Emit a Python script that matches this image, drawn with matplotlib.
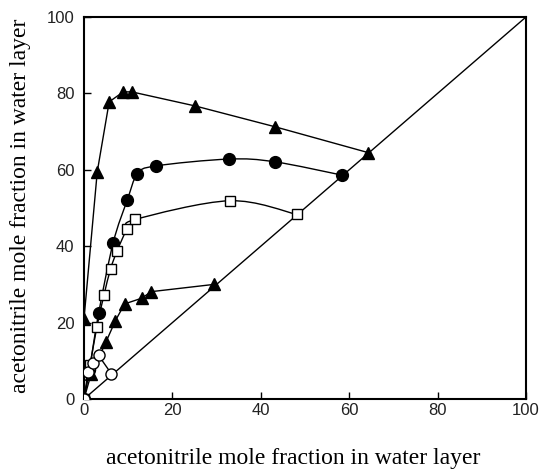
import numpy as np
import matplotlib
matplotlib.use("Agg")
import matplotlib.pyplot as plt
from matplotlib.path import Path
from matplotlib.patches import PathPatch

# Data (x: water layer, y: other layer), mole fraction %
tri_top_x = [0, 0, 3.0, 5.7, 8.9, 10.8, 25.2, 43.1, 64.3]
tri_top_y = [0, 21.0, 59.5, 77.8, 80.4, 80.4, 76.7, 71.3, 64.5]

circ_x = [0, 1.2, 3.3, 6.6, 9.8, 12.1, 16.2, 32.7, 43.1, 58.4]
circ_y = [0, 7.5, 22.4, 40.9, 52.1, 58.9, 61.0, 62.8, 62.1, 58.6]

sq_x = [0, 1.4, 2.9, 4.5, 6.0, 7.5, 9.7, 11.6, 33.0, 48.2]
sq_y = [0, 9.0, 18.8, 27.1, 34.0, 38.8, 44.4, 47.0, 51.9, 48.3]

tri_low_x = [0, 1.6, 5.0, 7.1, 9.2, 13.1, 15.2, 29.4]
tri_low_y = [0, 6.5, 15.0, 20.5, 24.9, 26.4, 28.1, 30.0]

ocirc_x = [0, 0.9, 2.0, 3.3, 6.2]
ocirc_y = [0, 7.0, 9.3, 11.4, 6.6]

diag = [0, 100]
ticks = [0, 20, 40, 60, 80, 100]
label_text = 'acetonitrile mole fraction in water layer'

fig = plt.figure(figsize=(5.41, 4.69), dpi=100)
ax = fig.add_axes([84/541, 1-399/469, (526-84)/541, (399-17)/469])


def smooth_line(ax, xs, ys, tension=0.5):
    pts = np.column_stack([xs, ys]).astype(float)
    n = len(pts)
    verts = [pts[0]]
    codes = [Path.MOVETO]
    for i in range(n - 1):
        p0 = pts[i - 1] if i > 0 else pts[i]
        p1 = pts[i]
        p2 = pts[i + 1]
        p3 = pts[i + 2] if i + 2 < n else pts[i + 1]
        c1 = p1 + (p2 - p0) * tension / 3
        c2 = p2 - (p3 - p1) * tension / 3
        verts += [c1, c2, p2]
        codes += [Path.CURVE4] * 3
    ax.add_patch(PathPatch(Path(verts, codes), fill=False, lw=1.0,
                           edgecolor='black', zorder=2))


ax.plot(diag, diag, color='black', lw=1.0, zorder=1)

ax.plot(tri_top_x, tri_top_y, color='black', lw=1.0, marker='^', ms=9,
        mfc='black', mec='black', zorder=3)

smooth_line(ax, circ_x, circ_y)
ax.plot(circ_x, circ_y, ls='none', marker='o', ms=8.5, mfc='black',
        mec='black', zorder=3)

smooth_line(ax, sq_x, sq_y)
ax.plot(sq_x, sq_y, ls='none', marker='s', ms=7.5, mfc='white',
        mec='black', mew=1.0, zorder=4)

ax.plot(tri_low_x, tri_low_y, color='black', lw=1.0, marker='^', ms=9,
        mfc='black', mec='black', zorder=3)

ax.plot(ocirc_x, ocirc_y, color='black', lw=1.0, marker='o', ms=8,
        mfc='white', mec='black', mew=1.0, zorder=5)

ax.set_xlim(0, 100)
ax.set_ylim(0, 100)
ax.set_xticks(ticks)
ax.set_yticks(ticks)
ax.tick_params(direction='in', length=5, width=1, labelsize=12,
               colors='black', labelcolor='#222222')
ax.tick_params(axis='x', pad=3)
ax.tick_params(axis='y', pad=7)
for lab in ax.get_xticklabels() + ax.get_yticklabels():
    lab.set_family('Liberation Sans')
for sp in ax.spines.values():
    sp.set_linewidth(1.5)

ax.set_xlabel(label_text, family='Liberation Serif', fontsize=17, va='center')
ax.set_ylabel(label_text, family='Liberation Serif', fontsize=17, va='center')
ax.xaxis.set_label_coords((293.5 - 84) / 442, (399 - 458) / 382)
ax.yaxis.set_label_coords((21 - 84) / 442, (399 - 205.5) / 382)

fig.savefig('out.png', dpi=100)
